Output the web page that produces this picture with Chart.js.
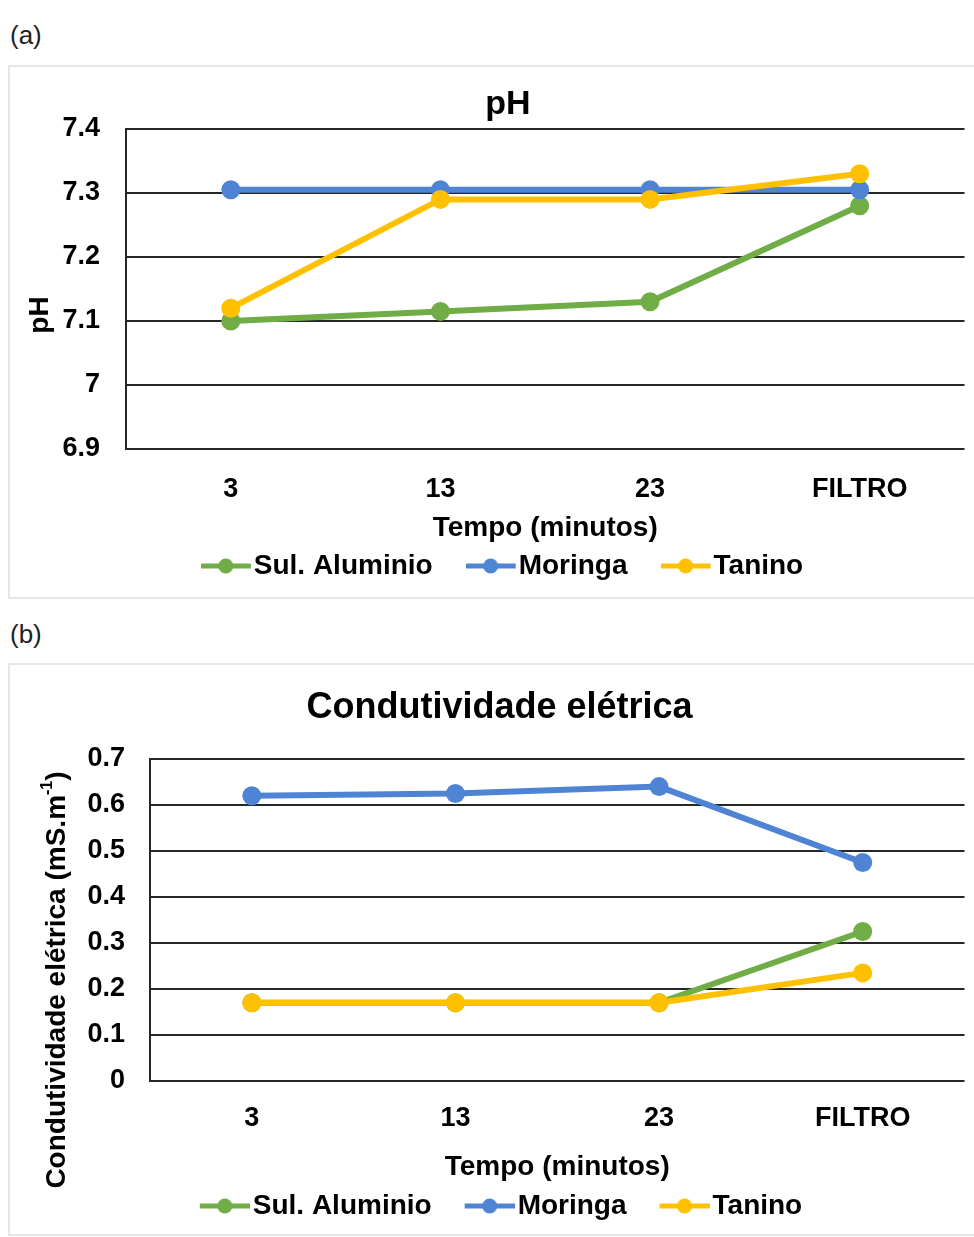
<!DOCTYPE html>
<html>
<head>
<meta charset="utf-8">
<script src="https://cdn.jsdelivr.net/npm/chart.js@4.4.1/dist/chart.umd.min.js"></script>
<style>
  html, body { margin: 0; padding: 0; background: #fff; }
  body { width: 974px; height: 1237px; position: relative; overflow: hidden; font-family: 'Liberation Sans', Arial, sans-serif; }
  .tag { position: absolute; left: 10px; font-size: 26px; line-height: 26px; color: #222; }
  .box { position: absolute; left: 8px; width: 990px; border: 2px solid #e6e6e6; box-sizing: border-box; }
  canvas { position: absolute; left: 10px; }
</style>
</head>
<body>
<div class="tag" style="top:22px">(a)</div>
<div class="box" style="top:65px;height:534px"></div>
<canvas id="chartPh" width="964" height="533" style="top:65px"></canvas>
<div class="tag" style="top:621px">(b)</div>
<div class="box" style="top:663px;height:573px"></div>
<canvas id="chartCe" width="964" height="574" style="top:663px"></canvas>

<script>
const categories = ['3', '13', '23', 'FILTRO'];
const seriesNames = ['Sul. Aluminio', 'Moringa', 'Tanino'];
const seriesColors = ['#70AD47', '#4F84D4', '#FFC000'];

// pH
const phSulfato = [7.10, 7.115, 7.13, 7.28];
const phMoringa = [7.305, 7.305, 7.305, 7.305];
const phTanino = [7.12, 7.29, 7.29, 7.33];
const phAxis = [6.9, 7.4, 0.1]; // min, max, passo

// condutividade eletrica
const ceSulfato = [0.17, 0.17, 0.17, 0.325];
const ceMoringa = [0.62, 0.625, 0.64, 0.475];
const ceTanino = [0.17, 0.17, 0.17, 0.235];
const ceAxis = [0, 0.7, 0.1];

// marcador da legenda: linha com bolinha (estilo Excel)
// box = largura reservada pelo chart.js; o desenho fica encostado no texto
function legendMarker(color, box) {
    const half = Math.max(box / 2 + 11, 39 - box / 2);
    const x0 = half + box / 2 - 39;
    const c = document.createElement('canvas');
    c.width = Math.ceil(half * 2);
    c.height = 20;
    const g = c.getContext('2d');
    g.strokeStyle = color;
    g.lineWidth = 5;
    g.beginPath();
    g.moveTo(x0, 10);
    g.lineTo(x0 + 50, 10);
    g.stroke();
    g.fillStyle = color;
    g.beginPath();
    g.arc(x0 + 25, 10, 7.5, 0, Math.PI * 2);
    g.fill();
    return c;
}

// titulo do eixo y desenhado na vertical
const sideTitle = {
    id: 'sideTitle',
    afterDraw(chart, args, opts) {
        const ctx = chart.ctx;
        const big = 'bold 28px "Liberation Sans", Arial, sans-serif';
        const small = 'bold 16px "Liberation Sans", Arial, sans-serif';
        ctx.save();
        ctx.translate(opts.x, opts.y);
        ctx.rotate(-Math.PI / 2);
        ctx.fillStyle = '#000';
        ctx.textBaseline = 'middle';
        ctx.textAlign = 'left';
        ctx.font = big;
        const w1 = ctx.measureText(opts.text).width;
        const w3 = ctx.measureText(opts.tail || '').width;
        ctx.font = small;
        const w2 = ctx.measureText(opts.sup || '').width;
        let x = -(w1 + w2 + w3) / 2;
        ctx.font = big;
        ctx.fillText(opts.text, x, 0);
        x += w1;
        if (opts.sup) {
            ctx.font = small;
            ctx.fillText(opts.sup, x, -9);
            x += w2;
        }
        if (opts.tail) {
            ctx.font = big;
            ctx.fillText(opts.tail, x, 0);
        }
        ctx.restore();
    }
};

function buildDatasets(values) {
    return values.map((data, i) => ({
        label: seriesNames[i],
        data: data,
        borderColor: seriesColors[i],
        backgroundColor: seriesColors[i],
        pointBackgroundColor: seriesColors[i],
        pointBorderColor: seriesColors[i],
        borderWidth: 6,
        pointRadius: 9.5,
        pointHoverRadius: 9.5,
        pointBorderWidth: 0,
        tension: 0,
        order: values.length - 1 - i
    }));
}

function makeChart(id, values, axis, t) {
    const markers = seriesColors.map(c => legendMarker(c, t.legendBox));
    return new Chart(document.getElementById(id), {
        type: 'line',
        data: { labels: categories, datasets: buildDatasets(values) },
        options: {
            responsive: false,
            animation: false,
            layout: { padding: { left: t.padLeft, right: 9, top: 0, bottom: t.padBottom } },
            plugins: {
                title: {
                    display: true,
                    text: t.title,
                    color: '#000',
                    font: { family: 'Liberation Sans', size: t.titleSize, weight: 'bold' },
                    padding: { top: t.titleTop, bottom: t.titleBottom }
                },
                legend: {
                    position: 'bottom',
                    labels: {
                        usePointStyle: true,
                        pointStyleWidth: t.legendBox,
                        padding: t.legendPad,
                        color: '#000',
                        font: { family: 'Liberation Sans', size: 28, weight: 'bold' },
                        sort: (a, b) => a.datasetIndex - b.datasetIndex,
                        generateLabels(chart) {
                            return Chart.defaults.plugins.legend.labels.generateLabels(chart)
                                .map(item => ({ ...item, pointStyle: markers[item.datasetIndex] }));
                        }
                    }
                },
                tooltip: { enabled: false },
                sideTitle: t.side
            },
            scales: {
                x: {
                    offset: true,
                    grid: { display: false },
                    border: { display: false },
                    ticks: {
                        color: '#000',
                        padding: t.xTickPad,
                        font: { family: 'Liberation Sans', size: 27, weight: 'bold' }
                    },
                    title: {
                        display: true,
                        text: 'Tempo (minutos)',
                        color: '#000',
                        font: { family: 'Liberation Sans', size: 28, weight: 'bold' },
                        padding: { top: 0, bottom: t.xTitlePad }
                    },
                    afterFit(scale) { scale.height = t.xHeight; }
                },
                y: {
                    min: axis[0],
                    max: axis[1],
                    ticks: {
                        stepSize: axis[2],
                        padding: t.yTickPad,
                        color: '#000',
                        font: { family: 'Liberation Sans', size: 27, weight: 'bold' },
                        callback: v => String(+v.toFixed(2))
                    },
                    grid: { color: '#262626', lineWidth: 2, drawTicks: false },
                    border: { color: '#262626', width: 2 },
                    afterFit(scale) { scale.width = t.yWidth; }
                }
            }
        },
        plugins: [sideTitle]
    });
}

document.addEventListener('DOMContentLoaded', function () {
    makeChart('chartPh', [phSulfato, phMoringa, phTanino], phAxis, {
        title: 'pH', titleSize: 34, titleTop: 19, titleBottom: 4.2,
        padLeft: 41, padBottom: 8, yWidth: 75, yTickPad: 26,
        xHeight: 58, xTickPad: 16, xTitlePad: -38,
        legendBox: 27, legendPad: 45,
        side: { text: 'pH', x: 30, y: 250 }
    });
    makeChart('chartCe', [ceSulfato, ceMoringa, ceTanino], ceAxis, {
        title: 'Condutividade elétrica', titleSize: 36, titleTop: 23, titleBottom: 29.8,
        padLeft: 24, padBottom: 7, yWidth: 116, yTickPad: 25,
        xHeight: 81, xTickPad: 13, xTitlePad: -22,
        legendBox: 42, legendPad: 30,
        side: { text: 'Condutividade elétrica (mS.m', sup: '-1', tail: ')', x: 47, y: 317 }
    });
});
</script>
</body>
</html>
